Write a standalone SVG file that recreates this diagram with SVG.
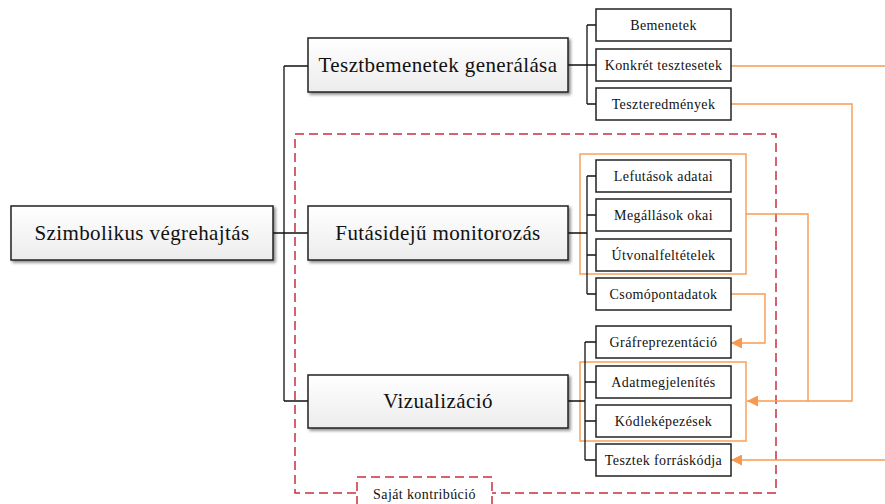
<svg xmlns="http://www.w3.org/2000/svg" width="885" height="504" viewBox="0 0 885 504">
  <defs>
    <linearGradient id="mainFill" x1="0" y1="0" x2="0" y2="1">
      <stop offset="0" stop-color="#ffffff"/>
      <stop offset="1" stop-color="#ececec"/>
    </linearGradient>
    <filter id="shadow" x="-10%" y="-20%" width="120%" height="150%">
      <feDropShadow dx="2" dy="2" stdDeviation="1.5" flood-color="#000" flood-opacity="0.45"/>
    </filter>
    <marker id="arrow" viewBox="0 0 10 10" refX="10" refY="5" markerWidth="11" markerHeight="11" markerUnits="userSpaceOnUse" orient="auto">
      <path d="M0,0 L10,5 L0,10 Z" fill="#F79A50"/>
    </marker>
    <style>
      text { font-family: 'Liberation Serif', 'DejaVu Serif', 'Times New Roman', serif; fill: #111; text-anchor: middle; dominant-baseline: central; }
      .main rect { fill: url(#mainFill); stroke: #222; stroke-width: 1.5; filter: url(#shadow); }
      .main text { font-size: 21px; letter-spacing: 0.4px; }
      .leaf rect { fill: #fff; stroke: #222; stroke-width: 1.5; }
      .leaf text { font-size: 14px; letter-spacing: 0.4px; }
      .tree { fill: none; stroke: #111; stroke-width: 1.3; }
      .link { fill: none; stroke: #F79A50; stroke-width: 1.4; }
      .group { fill: none; stroke: #F79A50; stroke-width: 1.4; }
      .own { fill: none; stroke: #C8303C; stroke-width: 1.5; stroke-dasharray: 9 5; }
      .tag rect { fill: #fff; stroke: #C8303C; stroke-width: 1.5; stroke-dasharray: 9 5; }
      .tag text { font-size: 14px; letter-spacing: 0.4px; }
    </style>
  </defs>

  <rect width="885" height="504" fill="#fff"/>

  <!-- dashed frame of the own contribution -->
  <rect class="own" x="295" y="134" width="481" height="359"/>

  <!-- orange grouping frames -->
  <rect class="group" x="580" y="154" width="166" height="120"/>
  <rect class="group" x="580" y="362" width="166" height="79"/>

  <!-- connectors -->
  <g id="connectors">
    <path class="tree" d="M273,233 H284 M284,66 V401 M284,66 H308 M284,233 H308 M284,401 H308"/>
    <path class="tree" d="M568,65 H587 M587,25 V104 M587,25 H596 M587,65 H596 M587,104 H596"/>
    <path class="tree" d="M568,233 H587 M587,176 V294 M587,176 H596 M587,215 H596 M587,255 H596 M587,294 H596"/>
    <path class="tree" d="M568,401 H585 M585,342 V460 M585,342 H596 M585,382 H596 M585,421 H596 M585,460 H596"/>

    <path class="link" d="M731,66 H885"/>
    <path class="link" d="M731,104 H852 V401 H808"/>
    <path class="link" d="M746,214 H808 V401 H747" marker-end="url(#arrow)"/>
    <path class="link" d="M731,294 H765 V343 H731" marker-end="url(#arrow)"/>
    <path class="link" d="M885,460 H731" marker-end="url(#arrow)"/>
  </g>

  <!-- main nodes -->
  <g id="root" class="main">
    <rect x="11" y="206" width="262" height="54"/>
    <text x="142" y="233">Szimbolikus végrehajtás</text>
  </g>
  <g id="tesztbemenetek" class="main">
    <rect x="308" y="38" width="260" height="54"/>
    <text x="438" y="65">Tesztbemenetek generálása</text>
  </g>
  <g id="futasideju" class="main">
    <rect x="308" y="206" width="260" height="54"/>
    <text x="438" y="233">Futásidejű monitorozás</text>
  </g>
  <g id="vizualizacio" class="main">
    <rect x="308" y="375" width="260" height="53"/>
    <text x="438" y="401">Vizualizáció</text>
  </g>

  <!-- leaves -->
  <g id="bemenetek" class="leaf">
    <rect x="596" y="9" width="135" height="32"/>
    <text x="663.5" y="25">Bemenetek</text>
  </g>
  <g id="konkret" class="leaf">
    <rect x="596" y="49" width="135" height="32"/>
    <text x="663.5" y="65">Konkrét tesztesetek</text>
  </g>
  <g id="teszteredmenyek" class="leaf">
    <rect x="596" y="88" width="135" height="32"/>
    <text x="663.5" y="104">Teszteredmények</text>
  </g>
  <g id="lefutasok" class="leaf">
    <rect x="596" y="160" width="135" height="32"/>
    <text x="663.5" y="176">Lefutások adatai</text>
  </g>
  <g id="megallasok" class="leaf">
    <rect x="596" y="199" width="135" height="32"/>
    <text x="663.5" y="215">Megállások okai</text>
  </g>
  <g id="utvonal" class="leaf">
    <rect x="596" y="239" width="135" height="32"/>
    <text x="663.5" y="255">Útvonalfeltételek</text>
  </g>
  <g id="csomopont" class="leaf">
    <rect x="596" y="278" width="135" height="32"/>
    <text x="663.5" y="294">Csomópontadatok</text>
  </g>
  <g id="graf" class="leaf">
    <rect x="596" y="326" width="135" height="32"/>
    <text x="663.5" y="342">Gráfreprezentáció</text>
  </g>
  <g id="adatmegjelenites" class="leaf">
    <rect x="596" y="366" width="135" height="32"/>
    <text x="663.5" y="382">Adatmegjelenítés</text>
  </g>
  <g id="kodlekepezesek" class="leaf">
    <rect x="596" y="405" width="135" height="32"/>
    <text x="663.5" y="421">Kódleképezések</text>
  </g>
  <g id="forraskod" class="leaf">
    <rect x="596" y="444" width="135" height="32"/>
    <text x="663.5" y="460">Tesztek forráskódja</text>
  </g>

  <!-- label of the dashed frame -->
  <g id="sajat" class="tag">
    <rect x="357" y="477" width="135" height="40"/>
    <text x="424.5" y="494">Saját kontribúció</text>
  </g>
</svg>
